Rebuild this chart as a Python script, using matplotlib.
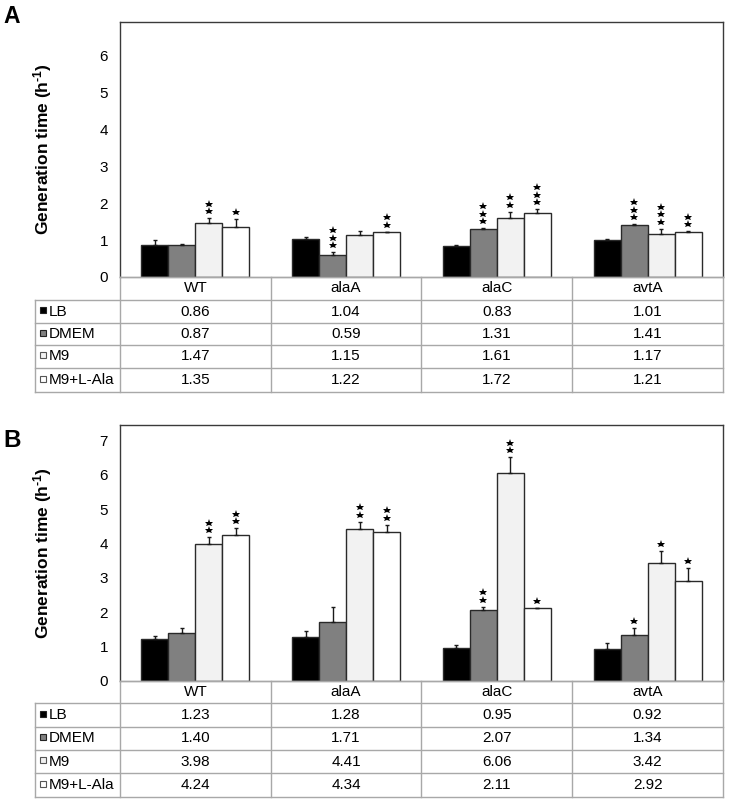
import matplotlib
matplotlib.use("Agg")
import matplotlib.pyplot as plt
from matplotlib.transforms import offset_copy
from matplotlib.patches import Rectangle
import numpy as np

plt.rcParams['font.family'] = ['Liberation Sans', 'DejaVu Sans']
plt.rcParams['mathtext.fontset'] = 'custom'
plt.rcParams['mathtext.rm'] = 'Liberation Sans:bold'
plt.rcParams['mathtext.bf'] = 'Liberation Sans:bold'
plt.rcParams['mathtext.default'] = 'rm'

# ---------------- data ----------------
strains = ["WT", "alaA", "alaC", "avtA"]
media = ["LB", "DMEM", "M9", "M9+L-Ala"]

# Panel A values (rows = media, cols = strains)
a_LB = [0.86, 1.04, 0.83, 1.01]
a_DMEM = [0.87, 0.59, 1.31, 1.41]
a_M9 = [1.47, 1.15, 1.61, 1.17]
a_M9Ala = [1.35, 1.22, 1.72, 1.21]
a_err_LB = [0.14, 0.05, 0.03, 0.03]
a_err_DMEM = [0.02, 0.08, 0.01, 0.02]
a_err_M9 = [0.12, 0.10, 0.16, 0.13]
a_err_M9Ala = [0.22, 0.01, 0.12, 0.03]
a_stars_LB = [0, 0, 0, 0]
a_stars_DMEM = [0, 3, 3, 3]
a_stars_M9 = [2, 0, 2, 3]
a_stars_M9Ala = [1, 2, 3, 2]

# Panel B values
b_LB = [1.23, 1.28, 0.95, 0.92]
b_DMEM = [1.40, 1.71, 2.07, 1.34]
b_M9 = [3.98, 4.41, 6.06, 3.42]
b_M9Ala = [4.24, 4.34, 2.11, 2.92]
b_err_LB = [0.09, 0.18, 0.10, 0.20]
b_err_DMEM = [0.15, 0.43, 0.09, 0.19]
b_err_M9 = [0.20, 0.22, 0.45, 0.36]
b_err_M9Ala = [0.20, 0.20, 0.01, 0.37]
b_stars_LB = [0, 0, 0, 0]
b_stars_DMEM = [0, 0, 2, 1]
b_stars_M9 = [2, 2, 2, 1]
b_stars_M9Ala = [2, 2, 1, 1]

a_ticks = [0, 1, 2, 3, 4, 5, 6]
b_ticks = [0, 1, 2, 3, 4, 5, 6, 7]

# ---------------- style ----------------
bar_colors = ["#000000", "#808080", "#f2f2f2", "#ffffff"]
W, H = 729, 800
fig = plt.figure(figsize=(W / 100, H / 100), dpi=100)

frame_col = "#3a3a3a"
grid_col = "#a8a8a8"

def px_axes(left, top, right, bottom):
    return fig.add_axes([left / W, 1 - bottom / H, (right - left) / W, (bottom - top) / H])

def draw_panel(top, bottom, ylim, ticks, vals, errs, stars):
    ax = px_axes(120, top, 723, bottom)
    ax.set_xlim(0, 4)
    ax.set_ylim(0, ylim)
    x = np.arange(4) + 0.5
    bw = 0.179
    for i in range(4):
        xi = x + (i - 1.5) * bw
        ax.bar(xi, vals[i], width=bw, color=bar_colors[i], edgecolor="#2a2a2a",
               linewidth=1.0, zorder=2)
        ax.errorbar(xi, vals[i], yerr=[np.zeros(4), errs[i]], fmt="none",
                    ecolor="#1a1a1a", elinewidth=1.0, capsize=1.7, capthick=1.0, zorder=3)
        for j in range(4):
            for k in range(stars[i][j]):
                tr = offset_copy(ax.transData, fig=fig, y=7 + 7.5 * k, units="dots")
                ax.plot([xi[j]], [vals[i][j] + errs[i][j]], marker="*", ms=6.2,
                        color="black", mew=0, transform=tr, zorder=4, clip_on=False)
    ax.set_yticks(ticks)
    ax.set_yticklabels([str(t) for t in ticks], fontsize=11)
    ax.set_xticks([])
    ax.tick_params(axis="y", length=0, pad=8.6)
    for s in ["top", "right", "left"]:
        ax.spines[s].set_color(frame_col)
        ax.spines[s].set_linewidth(1.0)
    ax.spines["bottom"].set_color(grid_col)
    ax.spines["bottom"].set_linewidth(1.0)
    ax.set_ylabel(r"Generation time (h$^{\text{-}1}$)", fontsize=12.5, fontweight="bold")
    ax.yaxis.set_label_coords(-0.11, 0.5)
    return ax

draw_panel(22, 277, 6.9, a_ticks,
           [a_LB, a_DMEM, a_M9, a_M9Ala],
           [a_err_LB, a_err_DMEM, a_err_M9, a_err_M9Ala],
           [a_stars_LB, a_stars_DMEM, a_stars_M9, a_stars_M9Ala])
draw_panel(425, 681, 7.45, b_ticks,
           [b_LB, b_DMEM, b_M9, b_M9Ala],
           [b_err_LB, b_err_DMEM, b_err_M9, b_err_M9Ala],
           [b_stars_LB, b_stars_DMEM, b_stars_M9, b_stars_M9Ala])

# ---------------- tables (overlay in pixel coords) ----------------
ov = fig.add_axes([0, 0, 1, 1])
ov.set_xlim(0, W)
ov.set_ylim(H, 0)
ov.axis("off")

col_edges = [120 + 150.75 * i for i in range(5)]
col_centers = [(col_edges[i] + col_edges[i + 1]) / 2 for i in range(4)]

def draw_table(row_edges, vals):
    lw = 1.0
    for xe in col_edges:
        ov.plot([xe, xe], [row_edges[0], row_edges[-1]], color=grid_col, lw=lw, zorder=1)
    ov.plot([35, 35], [row_edges[1], row_edges[-1]], color=grid_col, lw=lw)
    for k, ye in enumerate(row_edges):
        x0 = 120 if k == 0 else 35
        ov.plot([x0, 723], [ye, ye], color=grid_col, lw=lw, zorder=1)
    yc = (row_edges[0] + row_edges[1]) / 2
    for j in range(4):
        ov.text(col_centers[j], yc, strains[j], ha="center", va="center", fontsize=11)
    for i in range(4):
        yc = (row_edges[i + 1] + row_edges[i + 2]) / 2
        ov.add_patch(Rectangle((40, yc - 4.5), 6, 6, facecolor=bar_colors[i],
                               edgecolor="#555555" if i >= 2 else "#222222", lw=0.8))
        ov.text(49, yc, media[i], ha="left", va="center", fontsize=11)
        for j in range(4):
            ov.text(col_centers[j], yc, f"{vals[i][j]:.2f}", ha="center", va="center",
                    fontsize=11)

draw_table([277, 300, 323, 345, 368, 392], [a_LB, a_DMEM, a_M9, a_M9Ala])
draw_table([681, 703, 727, 750, 773, 797], [b_LB, b_DMEM, b_M9, b_M9Ala])

# panel letters
ov.text(3, 23, "A", fontsize=16.5, fontweight="bold", ha="left", va="baseline")
ov.text(3, 447, "B", fontsize=17.5, fontweight="bold", ha="left", va="baseline")

fig.savefig("out.png", dpi=100)
